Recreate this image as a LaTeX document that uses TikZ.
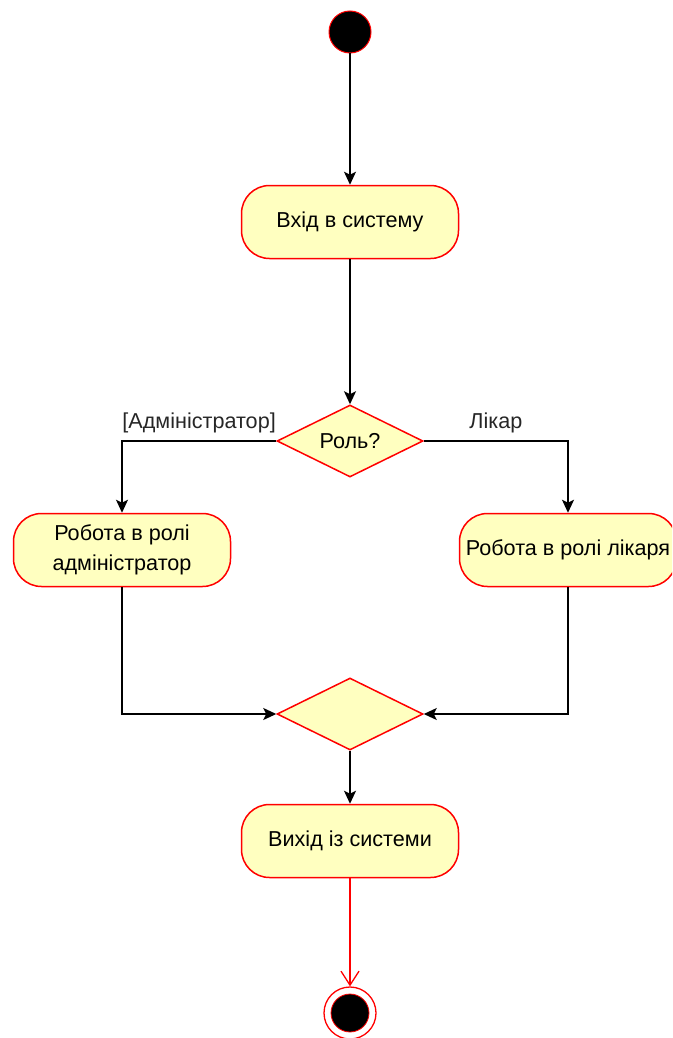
\documentclass[tikz,border=0pt]{standalone}
\usepackage{fontspec}
\setmainfont{Liberation Sans}
\usetikzlibrary{arrows.meta,shapes.geometric}
\definecolor{actfill}{HTML}{FFFFC0}
\definecolor{actline}{HTML}{FF0000}

\begin{document}
\begin{tikzpicture}[x=1pt,y=1pt,yscale=-1,xscale=1,
  activity/.style={draw=actline,fill=actfill,line width=1.5pt,rounded corners=28pt,
    minimum width=217pt,minimum height=73pt,align=center,
    font=\fontsize{21.6}{30}\selectfont},
  decision/.style={diamond,draw=actline,fill=actfill,line width=1.5pt,aspect=2,
    inner sep=0pt,minimum width=146pt,minimum height=72pt,
    font=\fontsize{21.6}{26}\selectfont},
  flow/.style={->,>={Stealth[length=13pt,width=12pt,inset=3pt]},line width=1.6pt,black},
  guard/.style={font=\fontsize{21.6}{26}\selectfont,text=black!85}]

\useasboundingbox (0,0) rectangle (672,1038);
\clip (0,0) rectangle (672,1038);

% start part
\node (start) [circle,fill=black,draw=actline,line width=1pt,minimum size=42pt] at (350,32) {};
\node (login) [activity] at (350,222) {Вхід в систему};
\node (role) [decision] at (350,441) {Роль?};

% branches
\node (admin) [activity] at (122,550) {Робота в ролі\\адміністратор};
\node (doctor) [activity] at (568,550) {Робота в ролі лікаря};
\node (merge) [decision] at (350,714) {};

% end part
\node (logout) [activity] at (350,841) {Вихід із системи};
\node (end) [circle,draw=actline,line width=1.3pt,minimum size=52pt] at (350,1013) {};
\node (endin) [circle,fill=black,draw=actline,line width=0.8pt,minimum size=38pt] at (end) {};

\draw [flow] (start) -- (login);
\draw [flow] (login) -- (role);
\draw [flow] (role.west) -| node [guard,pos=0.25,above=4pt] {[Адміністратор]} (admin);
\draw [flow] (role.east) -| node [guard,pos=0.25,above=4pt] {Лікар} (doctor);
\draw [flow] (admin) |- (merge.west);
\draw [flow] (doctor) |- (merge.east);
\draw [flow] (merge) -- (logout);
\draw [->,>={Straight Barb[length=14pt,width=18pt]},line width=1.3pt,actline] (logout) -- (end);

\end{tikzpicture}
\end{document}
